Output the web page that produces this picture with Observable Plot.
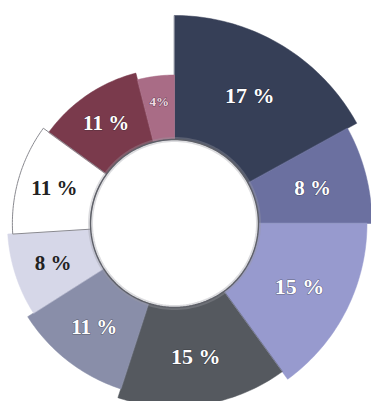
<!DOCTYPE html>
<html>
<head>
<meta charset="utf-8">
<script src="https://cdn.jsdelivr.net/npm/d3@7"></script>
<script src="https://cdn.jsdelivr.net/npm/@observablehq/plot@0.6"></script>
<style>
  html, body { margin: 0; padding: 0; background: #ffffff; }
  #chart svg { display: block; }
</style>
</head>
<body>
<div id="chart"></div>
<script>
// ---- data ----
const segments = ["S1", "S2", "S3", "S4", "S5", "S6", "S7", "S8", "S9"];
const shares = [17, 8, 15, 15, 11, 8, 11, 11, 4];
const labels = ["17 %", "8 %", "15 %", "15 %", "11 %", "8 %", "11 %", "11 %", "4%"];

// ---- styles ----
const palette = ["#363f57", "#6b70a0", "#979ace", "#55595f", "#898ea9", "#d6d7e8", "#ffffff", "#7a3a4c", "#a96c86"];
const labelInk = ["#ffffff", "#ffffff", "#ffffff", "#ffffff", "#ffffff", "#222222", "#222222", "#ffffff", "#f3dbe4"];

// ---- layout ----
const W = 371, H = 401;
const cx = 174, cy = 223;          // centre of the ring in pixels
const innerR = 84;                 // hole radius
const outerStart = 208, outerDrop = 62; // outer radius shrinks clockwise (spiral look)

const total = d3.sum(shares);
let acc = 0;
const slices = segments.map((seg, i) => {
  const a0 = acc / total;
  acc += shares[i];
  const a1 = acc / total;
  const rOut = outerStart - outerDrop * a0;
  return {segment: seg, share: shares[i], label: labels[i], a0, a1, rOut, rIn: innerR, i};
});

const polyPts = [];
for (const s of slices) {
  const t0 = s.a0 * 2 * Math.PI, t1 = s.a1 * 2 * Math.PI;
  const n = Math.max(2, Math.ceil((t1 - t0) / (Math.PI / 180)));
  for (let k = 0; k <= n; k++) {
    const t = t0 + (t1 - t0) * k / n;
    polyPts.push({segment: s.segment, x: s.rOut * Math.sin(t), y: s.rOut * Math.cos(t)});
  }
  for (let k = n; k >= 0; k--) {
    const t = t0 + (t1 - t0) * k / n;
    polyPts.push({segment: s.segment, x: s.rIn * Math.sin(t), y: s.rIn * Math.cos(t)});
  }
}

const whiteOutline = polyPts.filter(d => d.segment === "S7");

const holePts = d3.range(0, 361, 2).map(deg => {
  const t = deg * Math.PI / 180;
  return {x: innerR * Math.sin(t), y: innerR * Math.cos(t)};
});

const labelPts = slices.map(s => {
  const t = (s.a0 + s.a1) * Math.PI;
  const r = (s.rIn + s.rOut) / 2 + (s.share < 5 ? 6 : 2);
  return {label: s.label, share: s.share, i: s.i, x: r * Math.sin(t), y: r * Math.cos(t)};
});

const chart = Plot.plot({
  width: W,
  height: H,
  margin: 0,
  x: {domain: [-cx, W - cx], axis: null},
  y: {domain: [-(H - cy), cy], axis: null},
  color: {domain: segments, range: palette},
  style: {background: "#ffffff"},
  marks: [
    Plot.line(polyPts, {x: "x", y: "y", z: "segment", fill: "segment", stroke: "segment", strokeWidth: 0.5, curve: "linear-closed"}),
    Plot.line(whiteOutline, {x: "x", y: "y", stroke: "#8a8a90", strokeWidth: 1, fill: "none", curve: "linear-closed"}),
    Plot.line(holePts, {x: "x", y: "y", stroke: "#9a9aa4", strokeWidth: 5, strokeOpacity: 0.35, curve: "linear-closed"}),
    Plot.line(holePts, {x: "x", y: "y", stroke: "#5e6068", strokeWidth: 1.4, curve: "linear-closed"}),
    Plot.text(labelPts, {
      x: "x", y: "y", text: "label",
      fill: d => labelInk[d.i],
      stroke: d => (labelInk[d.i] === "#222222" ? "none" : "#1a1a24"),
      strokeWidth: 1.2, strokeOpacity: 0.45,
      fontSize: d => (d.share < 5 ? 13 : d.share >= 15 ? 22 : 21),
      fontWeight: "bold",
      fontFamily: "Liberation Serif, DejaVu Serif, serif"
    })
  ]
});

document.getElementById("chart").appendChild(chart);
</script>
</body>
</html>
